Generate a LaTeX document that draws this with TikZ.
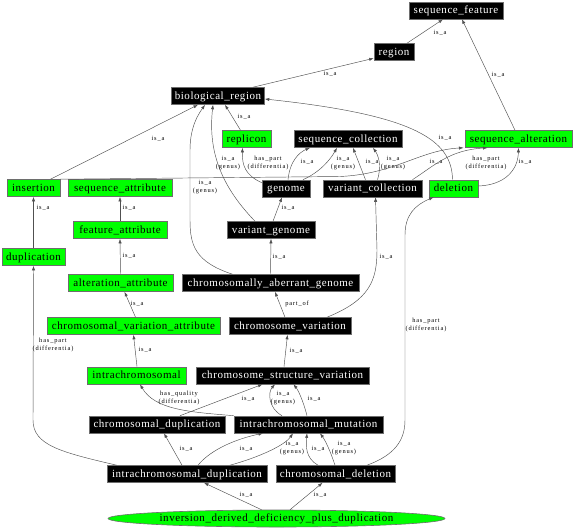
\documentclass[tikz,border=0pt]{standalone}
\usepackage{fontspec}
\newfontfamily\nfont[LetterSpace=5]{Liberation Serif}
\newfontfamily\lfont[LetterSpace=13]{Liberation Serif}
\usetikzlibrary{arrows.meta,shapes.geometric}
\definecolor{lime}{RGB}{0,255,0}
\definecolor{bord}{RGB}{110,110,110}
\definecolor{edgec}{RGB}{80,80,80}
\tikzset{
  basebox/.style={rectangle, draw=bord, line width=0.6pt, minimum height=17pt,
    inner sep=0pt, text height=8pt, text depth=2pt,
    font=\nfont\fontsize{11}{13}\selectfont},
  bk/.style={basebox, fill=black, text=white},
  gr/.style={basebox, fill=lime, text=black},
  el/.style={ellipse, draw=bord, line width=0.6pt, fill=lime, inner sep=0pt,
    minimum width=337pt, minimum height=17pt, text height=8pt, text depth=2pt,
    font=\nfont\fontsize{11}{13}\selectfont},
  e/.style={draw=edgec, line width=0.45pt, -{Latex[length=4.5pt,width=3.2pt]}},
  lbl/.style={font=\lfont\fontsize{6.4}{7.2}\selectfont, align=center, inner sep=0pt, text=black},
}
\begin{document}
\begin{tikzpicture}[x=1pt,y=-1pt]
\useasboundingbox[fill=white] (0,0) rectangle (576,531);
% nodes
\node[bk, minimum width=94pt] (sf) at (456,10.5) {sequence\_feature};
\node[bk, minimum width=40pt] (region) at (394,52) {region};
\node[bk, minimum width=93pt] (br) at (218,96) {biological\_region};
\node[gr, minimum width=49pt] (replicon) at (246.5,139) {replicon};
\node[bk, minimum width=108pt] (sc) at (348,139) {sequence\_collection};
\node[gr, minimum width=107pt] (sa) at (518.5,139) {sequence\_alteration};
\node[gr, minimum width=53pt] (insertion) at (33.5,188) {insertion};
\node[gr, minimum width=104pt] (sattr) at (120,188) {sequence\_attribute};
\node[bk, minimum width=48pt] (genome) at (286,188.5) {genome};
\node[bk, minimum width=99pt] (vc) at (372.5,188.5) {variant\_collection};
\node[gr, minimum width=49pt] (deletion) at (453.5,188.5) {deletion};
\node[gr, minimum width=94pt] (fattr) at (120,230) {feature\_attribute};
\node[bk, minimum width=88pt] (vg) at (271,230) {variant\_genome};
\node[gr, minimum width=63pt] (dup) at (33.5,257) {duplication};
\node[gr, minimum width=105pt] (aattr) at (120.5,283) {alteration\_attribute};
\node[bk, minimum width=177pt] (cag) at (270.5,283) {chromosomally\_aberrant\_genome};
\node[gr, minimum width=173pt] (cva) at (133.5,326) {chromosomal\_variation\_attribute};
\node[bk, minimum width=122pt] (cv) at (290,326) {chromosome\_variation};
\node[gr, minimum width=99pt] (intra) at (136.5,375.5) {intrachromosomal};
\node[bk, minimum width=173pt] (csv) at (282.5,375.5) {chromosome\_structure\_variation};
\node[bk, minimum width=136pt] (cd) at (157,424.5) {chromosomal\_duplication};
\node[bk, minimum width=149pt] (im) at (308.5,424.5) {intrachromosomal\_mutation};
\node[bk, minimum width=160pt] (id) at (187,474) {intrachromosomal\_duplication};
\node[bk, minimum width=119pt] (cdel) at (335.5,474) {chromosomal\_deletion};
\node[el] (inv) at (276.5,518.5) {inversion\_derived\_deficiency\_plus\_duplication};
% edges
\draw[e] ([xshift=13pt]region.north) -- ([xshift=-13pt]sf.south) node[lbl] at (440,33) {is\_a};
\draw[e] ([xshift=-3.5pt]sa.north) -- ([xshift=6pt]sf.south) node[lbl] at (498,75) {is\_a};
\draw[e] ([xshift=35pt]br.north) -- ([yshift=2.5pt]region.south west) node[lbl] at (330,74) {is\_a};
\draw[e] ([xshift=17pt]insertion.north) -- ([xshift=-20pt]br.south) node[lbl] at (158,139) {is\_a};
\draw[e] ([xshift=-6pt]replicon.north) -- ([xshift=7pt]br.south) node[lbl] at (244,117) {is\_a};
\draw[e] ([xshift=-1pt]deletion.north) .. controls (452,140) and (415,115) .. ([yshift=-3pt]br.east) node[lbl] at (445,138) {is\_a};
\draw[e] ([xshift=-38pt]cag.north) .. controls (195,262) and (190,245) .. (190,220) -- (190,150) .. controls (190,125) and (200,112) .. ([xshift=-13pt]br.south) node[lbl] at (205,187) {is\_a\\(genus)};
\draw[e] ([xshift=-16pt]vg.north) .. controls (220,185) and (208,150) .. ([xshift=-5pt]br.south) node[lbl] at (228,163) {is\_a\\(genus)};
\draw[e] ([yshift=-3pt]genome.north west) .. controls (245,175) and (242,165) .. ([xshift=-4pt]replicon.south) node[lbl] at (268,163) {has\_part\\(differentia)};
\draw[e] ([xshift=2pt]genome.north) .. controls (290,160) and (300,152) .. ([xshift=-38pt]sc.south) node[lbl] at (307,162) {is\_a};
\draw[e] ([xshift=17pt]genome.north) .. controls (320,172) and (330,160) .. ([xshift=-11pt]sc.south) node[lbl] at (343,163) {is\_a\\(genus)};
\draw[e] ([xshift=-7pt]vc.north) -- ([xshift=5pt]sc.south) node[lbl] at (372,162) {is\_a};
\draw[e] ([xshift=5pt]vc.north) .. controls (382,165) and (378,155) .. ([xshift=25pt]sc.south) node[lbl] at (393,163) {is\_a\\(genus)};
\draw[e] (insertion.north east) -- (340,176.5) .. controls (395,174) and (420,150) .. ([xshift=-55pt]sa.south) node[lbl] at (436,162) {is\_a};
\draw[e] ([xshift=40pt]vc.north) .. controls (435,165) and (450,150) .. ([xshift=-31pt]sa.south) node[lbl] at (486,163) {has\_part\\(differentia)};
\draw[e] ([yshift=2.5pt]deletion.east) .. controls (505,185) and (518,170) .. (sa.south) node[lbl] at (525,162) {is\_a};
\draw[e] (dup.north) -- (insertion.south) node[lbl] at (43,208) {is\_a};
\draw[e] (fattr.north) -- (sattr.south) node[lbl] at (129,208) {is\_a};
\draw[e] (aattr.north) -- (fattr.south) node[lbl] at (129,256) {is\_a};
\draw[e] ([xshift=2pt]cva.north) -- ([xshift=4pt]aattr.south) node[lbl] at (137,304) {is\_a};
\draw[e] ([xshift=0.5pt]intra.north) -- (cva.south) node[lbl] at (145,350) {is\_a};
\draw[e] ([xshift=2pt]vg.north) -- ([xshift=-4pt]genome.south) node[lbl] at (288,208) {is\_a};
\draw[e] (cag.north) -- (vg.south) node[lbl] at (279,257) {is\_a};
\draw[e] ([xshift=-5pt]cv.north) -- ([xshift=4.5pt]cag.south) node[lbl] at (297,304) {part\_of};
\draw[e] ([xshift=37pt]cv.north) .. controls (370,300) and (377,280) .. (377,250) -- ([xshift=3pt]vc.south) node[lbl] at (386,257) {is\_a};
\draw[e] ([xshift=1.5pt]csv.north) -- ([xshift=-2.5pt]cv.south) node[lbl] at (296,351) {is\_a};
\draw[e] (im.north west) .. controls (190,412) and (155,410) .. ([xshift=3.5pt]intra.south) node[lbl] at (179,398) {has\_quality\\(differentia)};
\draw[e] ([xshift=23pt]cd.north) -- ([xshift=-20pt]csv.south) node[lbl] at (248,399) {is\_a};
\draw[e] ([xshift=-26.5pt]im.north) .. controls (268,408) and (268,392) .. ([xshift=-7.5pt]csv.south) node[lbl] at (283,398) {is\_a\\(genus)};
\draw[e] ([xshift=-1.5pt]im.north) .. controls (303,400) and (298,390) .. ([xshift=11pt]csv.south) node[lbl] at (314,399) {is\_a};
\draw[e] ([xshift=-5pt]id.north) -- ([xshift=7pt]cd.south) node[lbl] at (186,449) {is\_a};
\draw[e] ([xshift=11pt]id.north) .. controls (212,448) and (240,438) .. ([xshift=-45.5pt]im.south) node[lbl] at (246,449) {is\_a};
\draw[e] ([xshift=43pt]id.north) .. controls (260,457) and (285,445) .. ([xshift=-15.5pt]im.south) node[lbl] at (292,448) {is\_a\\(genus)};
\draw[e] ([xshift=-17.5pt]cdel.north) .. controls (305,458) and (306,445) .. ([xshift=-1.5pt]im.south) node[lbl] at (318,449) {is\_a};
\draw[e] ([xshift=-0.5pt]cdel.north) .. controls (330,450) and (325,440) .. ([xshift=11.5pt]im.south) node[lbl] at (344,448) {is\_a\\(genus)};
\draw[e] ([xshift=31.5pt]cdel.north) .. controls (395,455) and (405,440) .. (405,420) -- (405,235) .. controls (405,215) and (415,205) .. ([xshift=-20pt]deletion.south) node[lbl] at (426,325) {has\_part\\(differentia)};
\draw[e] ([xshift=10pt]id.north west) .. controls (60,452) and (33,445) .. (33,420) -- (dup.south) node[lbl] at (53,345) {has\_part\\(differentia)};
\draw[e] ([xshift=-15pt]inv.north) -- ([xshift=17pt]id.south) node[lbl] at (246,495) {is\_a};
\draw[e] ([xshift=13.5pt]inv.north) -- ([xshift=-13pt]cdel.south) node[lbl] at (320,495) {is\_a};
\end{tikzpicture}
\end{document}
